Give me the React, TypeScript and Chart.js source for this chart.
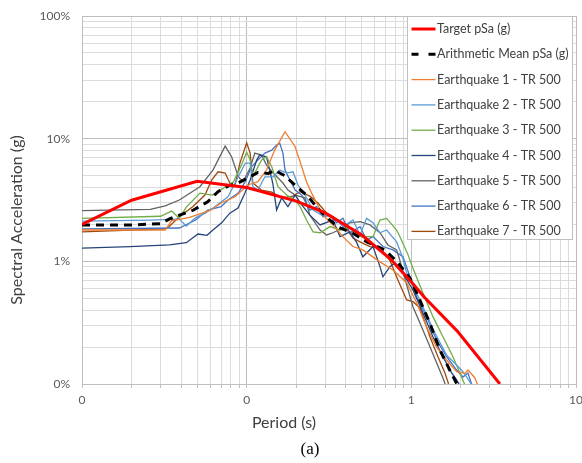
import React, { useEffect, useRef } from 'react';
import { Chart, registerables } from 'chart.js';

Chart.register(...registerables);

// ---- axis ticks ----
const xMajor = [0.01, 0.1, 1, 10];
const xMajorLabels = ['0', '0', '1', '10'];
const yMajor = [0.001, 0.01, 0.1, 1];
const yMajorLabels = ['0%', '1%', '10%', '100%'];
const minorSteps = [2, 3, 4, 5, 6, 7, 8, 9];

// ---- series: [period (s), spectral acceleration (g)] ----
const target: [number, number][] = [
  [0.01, 0.02], [0.02, 0.0315], [0.05, 0.045], [0.1, 0.04], [0.2, 0.031], [0.3, 0.0248],
  [0.5, 0.0164], [0.75, 0.0104], [1.0, 0.0068], [1.2, 0.0051], [1.9, 0.0027], [3.45, 0.001],
];

const mean: [number, number][] = [
  [0.01, 0.0198], [0.02, 0.0198], [0.03, 0.0203], [0.034, 0.0222], [0.047, 0.026], [0.058, 0.0306],
  [0.067, 0.037], [0.077, 0.041], [0.0885, 0.0435], [0.102, 0.048], [0.117, 0.053], [0.135, 0.052],
  [0.149, 0.055], [0.17, 0.05], [0.2, 0.041], [0.235, 0.034], [0.27, 0.027], [0.31, 0.0225],
  [0.36, 0.019], [0.44, 0.017], [0.537, 0.0144], [0.69, 0.0124], [0.82, 0.0099], [0.98, 0.0073],
  [1.08, 0.0055], [1.3, 0.0031], [1.49, 0.0019], [1.71, 0.0013], [1.89, 0.001], [2.0, 0.00088],
];

const eq1: [number, number][] = [
  [0.01, 0.018], [0.032, 0.018], [0.035, 0.0215], [0.039, 0.022], [0.045, 0.0228], [0.06, 0.026],
  [0.07, 0.0299], [0.085, 0.0336], [0.102, 0.0419], [0.117, 0.0446], [0.132, 0.0555], [0.148, 0.0807],
  [0.171, 0.114], [0.197, 0.086], [0.216, 0.059], [0.231, 0.0443], [0.248, 0.036], [0.266, 0.0299],
  [0.291, 0.0238], [0.334, 0.0198], [0.384, 0.0159], [0.442, 0.0132], [0.508, 0.0124], [0.645, 0.0099],
  [0.773, 0.0085], [0.937, 0.0067], [1.077, 0.0046], [1.239, 0.0029], [1.425, 0.002], [1.638, 0.00157],
  [1.884, 0.00126], [2.115, 0.00122], [2.207, 0.0013], [2.434, 0.00112], [2.6, 0.00089],
];

const eq2: [number, number][] = [
  [0.01, 0.0213], [0.026, 0.0217], [0.039, 0.0221], [0.043, 0.0194], [0.049, 0.0227], [0.056, 0.0247],
  [0.064, 0.0279], [0.077, 0.0336], [0.089, 0.0489], [0.098, 0.0632], [0.105, 0.0632], [0.109, 0.0406],
  [0.117, 0.0381], [0.129, 0.0489], [0.145, 0.0489], [0.159, 0.0555], [0.175, 0.0524], [0.191, 0.0537],
  [0.205, 0.0419], [0.226, 0.0347], [0.253, 0.0262], [0.285, 0.0238], [0.334, 0.0233], [0.384, 0.0192],
  [0.442, 0.0217], [0.488, 0.0164], [0.535, 0.0224], [0.585, 0.0206], [0.645, 0.0171], [0.708, 0.018],
  [0.814, 0.0144], [0.889, 0.0106], [0.937, 0.008], [1.077, 0.0055], [1.239, 0.00365], [1.391, 0.0026],
  [1.638, 0.00172], [1.884, 0.00143], [2.057, 0.00126], [2.269, 0.00104], [2.43, 0.00089],
];

const eq3: [number, number][] = [
  [0.01, 0.0224], [0.03, 0.0233], [0.035, 0.0257], [0.039, 0.0225], [0.043, 0.0277], [0.052, 0.036],
  [0.062, 0.0347], [0.083, 0.0443], [0.093, 0.0609], [0.1, 0.0777], [0.105, 0.0669], [0.109, 0.0489],
  [0.123, 0.0669], [0.132, 0.0712], [0.142, 0.059], [0.155, 0.0406], [0.175, 0.0347], [0.197, 0.0316],
  [0.211, 0.0279], [0.231, 0.0217], [0.253, 0.0174], [0.279, 0.0171], [0.321, 0.0192], [0.369, 0.018],
  [0.424, 0.0187], [0.488, 0.0159], [0.585, 0.0159], [0.645, 0.0217], [0.708, 0.0224], [0.814, 0.018],
  [0.85, 0.016], [0.9, 0.0135], [0.95, 0.0115], [1.023, 0.0088], [1.176, 0.00551], [1.353, 0.00354],
  [1.556, 0.00243], [1.789, 0.00167], [2.02, 0.00114], [2.18, 0.00089],
];

const eq4: [number, number][] = [
  [0.01, 0.0128], [0.0196, 0.0132], [0.034, 0.0136], [0.043, 0.0142], [0.0506, 0.0167], [0.0574, 0.0163],
  [0.0624, 0.018], [0.0705, 0.0206], [0.079, 0.0247], [0.0886, 0.0272], [0.0976, 0.036], [0.105, 0.046],
  [0.115, 0.0669], [0.12, 0.0735], [0.132, 0.0712], [0.144, 0.0435], [0.152, 0.0262], [0.163, 0.0329],
  [0.178, 0.0279], [0.197, 0.0347], [0.216, 0.0288], [0.242, 0.0238], [0.279, 0.0198], [0.334, 0.0217],
  [0.369, 0.0159], [0.424, 0.0174], [0.466, 0.0142], [0.508, 0.0109], [0.585, 0.0132], [0.645, 0.00905],
  [0.672, 0.00748], [0.741, 0.00905], [0.795, 0.0097], [0.853, 0.0088], [1.023, 0.00584], [1.176, 0.00379],
  [1.353, 0.00243], [1.556, 0.00167], [1.757, 0.00123], [1.884, 0.00108], [2.04, 0.00089],
];

const eq5: [number, number][] = [
  [0.01, 0.0259], [0.026, 0.0265], [0.032, 0.0283], [0.039, 0.0316], [0.052, 0.0406], [0.0624, 0.0555],
  [0.074, 0.087], [0.081, 0.0712], [0.089, 0.0489], [0.095, 0.0446], [0.105, 0.0577], [0.112, 0.0763],
  [0.123, 0.0735], [0.132, 0.0609], [0.149, 0.0505], [0.166, 0.0435], [0.178, 0.0381], [0.197, 0.0347],
  [0.226, 0.0329], [0.242, 0.0238], [0.279, 0.018], [0.306, 0.0164], [0.334, 0.0171], [0.384, 0.0187],
  [0.424, 0.0206], [0.488, 0.0211], [0.561, 0.0198], [0.645, 0.0171], [0.721, 0.0136], [0.814, 0.0124],
  [0.853, 0.0101], [0.937, 0.00641], [1.023, 0.00426], [1.176, 0.00275], [1.353, 0.00176], [1.556, 0.00112],
  [1.67, 0.00086],
];

const eq6: [number, number][] = [
  [0.01, 0.0184], [0.039, 0.0187], [0.049, 0.0217], [0.058, 0.0262], [0.07, 0.0279], [0.077, 0.0316],
  [0.089, 0.036], [0.098, 0.0446], [0.107, 0.059], [0.117, 0.0669], [0.129, 0.0763], [0.142, 0.0807],
  [0.152, 0.0887], [0.159, 0.0916], [0.166, 0.0763], [0.171, 0.0555], [0.183, 0.046], [0.197, 0.0381],
  [0.216, 0.0347], [0.242, 0.0262], [0.266, 0.0279], [0.291, 0.0231], [0.321, 0.0238], [0.352, 0.0206],
  [0.384, 0.0225], [0.424, 0.0171], [0.488, 0.0192], [0.535, 0.0149], [0.585, 0.0159], [0.672, 0.0132],
  [0.773, 0.0124], [0.889, 0.0109], [0.981, 0.0075], [1.077, 0.00514], [1.239, 0.00354], [1.425, 0.00228],
  [1.638, 0.00167], [1.884, 0.0013], [2.057, 0.00114], [2.207, 0.00123], [2.323, 0.001], [2.4, 0.00086],
];

const eq7: [number, number][] = [
  [0.01, 0.0174], [0.032, 0.0184], [0.034, 0.0193], [0.039, 0.0231], [0.047, 0.0279], [0.0558, 0.0347],
  [0.0613, 0.046], [0.067, 0.0537], [0.074, 0.0524], [0.081, 0.0406], [0.085, 0.0419], [0.091, 0.0632],
  [0.1, 0.0926], [0.105, 0.0763], [0.109, 0.0435], [0.123, 0.0381], [0.142, 0.0367], [0.163, 0.0329],
  [0.191, 0.034], [0.211, 0.037], [0.242, 0.034], [0.271, 0.0299], [0.306, 0.0247], [0.352, 0.0217],
  [0.395, 0.0192], [0.442, 0.0155], [0.488, 0.0144], [0.561, 0.0132], [0.645, 0.0128], [0.741, 0.0102],
  [0.829, 0.00704], [0.937, 0.00484], [1.023, 0.00469], [1.128, 0.00417], [1.297, 0.00243], [1.451, 0.00167],
  [1.6, 0.00123], [1.668, 0.00104], [1.72, 0.00089],
];

const seriesLabels = [
  'Target pSa (g)',
  'Arithmetic Mean pSa (g)',
  'Earthquake 1 - TR 500',
  'Earthquake 2 - TR 500',
  'Earthquake 3 - TR 500',
  'Earthquake 4 - TR 500',
  'Earthquake 5 - TR 500',
  'Earthquake 6 - TR 500',
  'Earthquake 7 - TR 500',
];
const seriesData = [target, mean, eq1, eq2, eq3, eq4, eq5, eq6, eq7];
const seriesColors = ['#ff0000', '#000000', '#ED7D31', '#5B9BD5', '#70AD47', '#264478', '#636363', '#4472C4', '#9E480E'];

const FONT = 'Lato, "Open Sans", sans-serif';

function gridValues(majors: number[]) {
  const out: number[] = [];
  majors.forEach((m, i) => {
    out.push(m);
    if (i < majors.length - 1) minorSteps.forEach((s) => out.push(+(m * s).toPrecision(6)));
  });
  return out;
}

function majorIndex(majors: number[], v: number) {
  return majors.findIndex((m) => Math.abs(m - v) < m * 1e-6);
}

const overlayPlugin = {
  id: 'overlay',
  afterDraw(chart: any) {
    const { ctx, chartArea } = chart;
    ctx.save();
    // legend box inside plot area (top right)
    const boxW = 165;
    const boxH = 223;
    const left = Math.round(chartArea.right - 169) + 0.5;
    const top = Math.round(chartArea.top) + 0.5;
    ctx.fillStyle = '#ffffff';
    ctx.fillRect(left, top, boxW, boxH);
    ctx.strokeStyle = '#bfbfbf';
    ctx.lineWidth = 1;
    ctx.strokeRect(left, top, boxW, boxH);
    chart.data.datasets.forEach((ds: any, i: number) => {
      const y = top + 12.5 + i * 25.3;
      ctx.strokeStyle = ds.borderColor;
      ctx.lineWidth = ds.borderWidth;
      ctx.setLineDash(ds.borderDash && ds.borderDash.length ? [7, 10] : []);
      ctx.beginPath();
      ctx.moveTo(left + 4, y);
      ctx.lineTo(left + 28, y);
      ctx.stroke();
      ctx.setLineDash([]);
      ctx.fillStyle = '#404040';
      ctx.font = `12.5px ${FONT}`;
      ctx.textBaseline = 'middle';
      ctx.textAlign = 'left';
      ctx.fillText(ds.label, left + 29.5, y);
    });

    // axis titles
    ctx.fillStyle = '#404040';
    ctx.font = `16px ${FONT}`;
    ctx.textAlign = 'center';
    ctx.textBaseline = 'middle';
    ctx.fillText('Period (s)', 284, 423);
    ctx.save();
    ctx.translate(17, 220);
    ctx.rotate(-Math.PI / 2);
    ctx.fillText('Spectral Acceleration (g)', 0, 0);
    ctx.restore();

    // caption
    ctx.fillStyle = '#000000';
    ctx.font = '17px "Liberation Serif", "Times New Roman", serif';
    ctx.fillText('(a)', 310, 450);
    ctx.restore();
  },
};

export default function App() {
  const canvasRef = useRef<HTMLCanvasElement | null>(null);

  useEffect(() => {
    const canvas = canvasRef.current;
    if (!canvas) return;
    const xGrid = gridValues(xMajor);
    const yGrid = gridValues(yMajor);

    const datasets = seriesData.map((pts, i) => ({
      label: seriesLabels[i],
      data: pts.map(([x, y]) => ({ x, y })),
      borderColor: seriesColors[i],
      backgroundColor: seriesColors[i],
      borderWidth: i === 0 ? 3 : i === 1 ? 3 : 1.3,
      borderDash: i === 1 ? [8, 6] : [],
      pointRadius: 0,
      tension: 0,
      fill: false,
    }));

    const chart = new Chart(canvas, {
      type: 'line',
      data: { datasets },
      plugins: [overlayPlugin],
      options: {
        responsive: false,
        animation: false,
        layout: { padding: { top: 16, right: 6, left: 0, bottom: 0 } },
        plugins: { legend: { display: false }, tooltip: { enabled: false }, title: { display: false } },
        scales: {
          x: {
            type: 'logarithmic',
            min: 0.01,
            max: 10,
            afterBuildTicks: (scale: any) => {
              scale.ticks = xGrid.map((v) => ({ value: v, major: majorIndex(xMajor, v) >= 0 }));
            },
            afterFit: (scale: any) => {
              scale.height = 79;
              scale.paddingRight = 0;
            },
            ticks: {
              autoSkip: false,
              maxRotation: 0,
              padding: 5,
              color: '#595959',
              font: { family: FONT, size: 12 },
              callback: (value: any) => {
                const i = majorIndex(xMajor, Number(value));
                return i >= 0 ? xMajorLabels[i] : '';
              },
            },
            grid: {
              color: (c: any) => (c.tick && majorIndex(xMajor, c.tick.value) >= 0 ? '#bdbdbd' : '#dcdcdc'),
              tickColor: '#bfbfbf',
              tickLength: 4,
              drawTicks: true,
            },
            border: { color: '#bfbfbf' },
          },
          y: {
            type: 'logarithmic',
            min: 0.001,
            max: 1,
            afterBuildTicks: (scale: any) => {
              scale.ticks = yGrid.map((v) => ({ value: v, major: majorIndex(yMajor, v) >= 0 }));
            },
            afterFit: (scale: any) => {
              scale.width = 82;
              scale.paddingTop = 0;
              scale.paddingBottom = 0;
            },
            ticks: {
              autoSkip: false,
              padding: 12,
              color: '#595959',
              font: { family: FONT, size: 12 },
              callback: (value: any) => {
                const i = majorIndex(yMajor, Number(value));
                return i >= 0 ? yMajorLabels[i] : '';
              },
            },
            grid: {
              color: (c: any) => (c.tick && majorIndex(yMajor, c.tick.value) >= 0 ? '#bdbdbd' : '#dcdcdc'),
              drawTicks: false,
            },
            border: { color: '#bfbfbf' },
          },
        },
      } as any,
    });
    return () => chart.destroy();
  }, []);

  return (
    <div style={{ position: 'fixed', left: 0, top: 0, width: 582, height: 463, background: '#ffffff' }}>
      <canvas ref={canvasRef} width={582} height={463} style={{ display: 'block', width: 582, height: 463 }} />
    </div>
  );
}
